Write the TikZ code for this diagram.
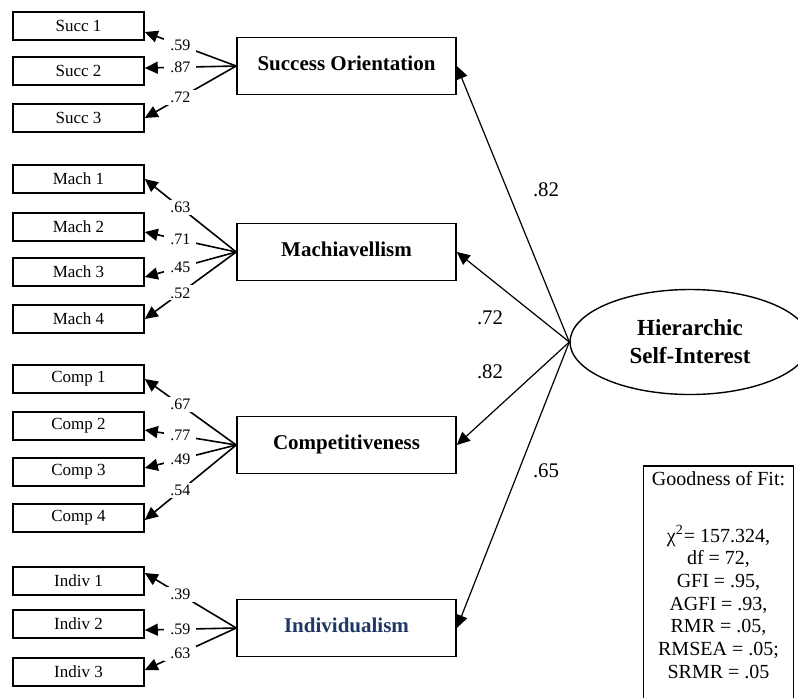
\documentclass[tikz,border=0pt]{standalone}
\usepackage{fontspec}
\setmainfont{Liberation Serif}
\usetikzlibrary{arrows.meta,positioning,shapes.geometric}
\definecolor{ink}{HTML}{000000}
\definecolor{indblue}{HTML}{1F3864}
\tikzset{
  item/.style={draw=ink,line width=.8pt,minimum width=65.5pt,minimum height=14pt,inner sep=0pt,font=\fontsize{8.5}{10}\selectfont},
  factor/.style={draw=ink,line width=.8pt,minimum width=109.5pt,minimum height=28.5pt,inner sep=0pt,text depth=3pt,font=\fontsize{10.5}{12}\selectfont\bfseries},
  hsi/.style={ellipse,draw=ink,line width=.7pt,minimum width=120pt,minimum height=52.5pt,inner sep=0pt,align=center,font=\fontsize{11.5}{14}\selectfont\bfseries},
  ld/.style={fill=white,inner xsep=3pt,inner ysep=1pt,font=\fontsize{8}{9}\selectfont},
  coef/.style={font=\fontsize{10.4}{12}\selectfont},
  fitbox/.style={minimum width=74.5pt,inner xsep=0pt,inner ysep=2.5pt,align=center,font=\fontsize{10}{11.35}\selectfont},
  ar/.style={-{Triangle[length=6.5pt,width=6pt]},draw=ink,line width=.8pt},
  ars/.style={ar,line width=.6pt},
}
\begin{document}
\begin{tikzpicture}[x=0.5pt,y=-0.5pt]
  \useasboundingbox (0,0) rectangle (798,697);
  % observed items
  \foreach \n/\y in {1/26,2/71,3/118} \node[item] (succ\n) at (78.5,\y) {Succ \n};
  \foreach \n/\y in {1/179,2/227,3/272,4/319} \node[item] (mach\n) at (78.5,\y) {Mach \n};
  \foreach \n/\y in {1/379,2/426,3/472,4/518} \node[item] (comp\n) at (78.5,\y) {Comp \n};
  \foreach \n/\y in {1/581,2/624,3/672} \node[item] (indiv\n) at (78.5,\y) {Indiv \n};
  % first-order factors
  \node[factor] (so) at (346.5,66) {Success Orientation};
  \node[factor] (ma) at (346.5,252) {Machiavellism};
  \node[factor] (co) at (346.5,445) {Competitiveness};
  \node[factor,text=indblue] (in) at (346.5,628) {Individualism};
  % second-order factor
  \node[hsi] (hsi) at (690,342) {Hierarchic\\Self-Interest};
  % loadings
  \foreach \n/\w/\s in {1/.59/-3,2/.87/1.5,3/.72/0}
    \draw[ar] (so.west) -- node[ld,pos=.61]{\w} ([yshift=\s pt]succ\n.east);
  \foreach \n/\w/\s in {1/.63/0,2/.71/-2.5,3/.45/-2.5,4/.52/0}
    \draw[ar] (ma.west) -- node[ld,pos=.61]{\w} ([yshift=\s pt]mach\n.east);
  \foreach \n/\w/\s in {1/.67/0,2/.77/-2,3/.49/2,4/.54/-1}
    \draw[ar] (co.west) -- node[ld,pos=.61]{\w} ([yshift=\s pt]comp\n.east);
  \foreach \n/\w/\s in {1/.39/4,2/.59/-3,3/.63/1}
    \draw[ar] (in.west) -- node[ld,pos=.61]{\w} ([yshift=\s pt]indiv\n.east);
  % structural paths
  \foreach \f in {so,ma,co,in} \draw[ars] (hsi.west) -- (\f.east);
  \node[coef] (c1) at (546,190) {.82};
  \node[coef] (c2) at (490,318) {.72};
  \node[coef] (c3) at (490,372) {.82};
  \node[coef] (c4) at (546,471) {.65};
  % fit indices
  \node[fitbox,anchor=north] (gof) at (718.5,466) {Goodness of Fit:\\[17pt]
    χ\textsuperscript{2}= 157.324,\\ df = 72,\\ GFI = .95,\\ AGFI = .93,\\
    RMR = .05,\\ RMSEA = .05;\\ SRMR = .05};
  \draw[ink,line width=.8pt] ([yshift=-20pt]gof.south west) |- (gof.north east) -- ([yshift=-20pt]gof.south east);
\end{tikzpicture}
\end{document}
